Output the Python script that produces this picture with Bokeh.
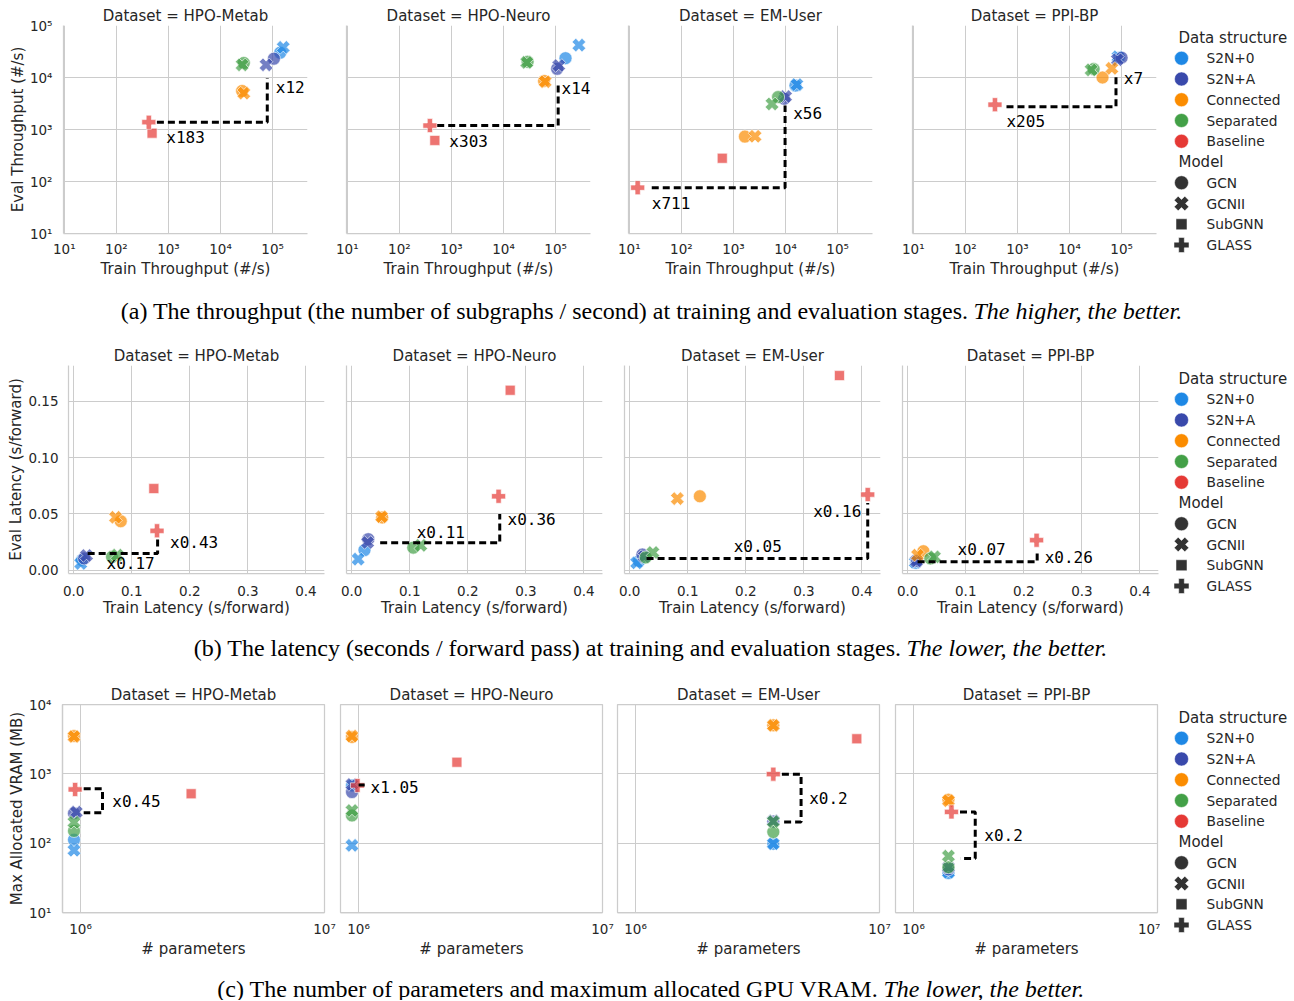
import math
from bokeh.plotting import figure
from bokeh.layouts import row, column
from bokeh.models import (Range1d, FixedTicker, CustomJSTickFormatter, NumeralTickFormatter,
                          Label, ColumnDataSource)
from bokeh.core.properties import value
from bokeh.embed import file_html
from bokeh.resources import INLINE

# ---------------- data ----------------
datasets = ["HPO-Metab", "HPO-Neuro", "EM-User", "PPI-BP"]
structures = ["S2N+0", "S2N+A", "Connected", "Separated", "Baseline"]
structure_colors = ["#1E88E5", "#3949AB", "#FB8C00", "#43A047", "#E53935"]
models = ["GCN", "GCNII", "SubGNN", "GLASS"]

point_structure = ["S2N+0", "S2N+0", "S2N+A", "S2N+A", "Connected", "Connected",
                   "Separated", "Separated", "Baseline", "Baseline"]
point_model = ["GCN", "GCNII", "GCN", "GCNII", "GCN", "GCNII", "GCN", "GCNII", "SubGNN", "GLASS"]

train_throughput = {
    "HPO-Metab": [1.4e5, 1.6e5, 1.06e5, 7.5e4, 2.6e4, 2.8e4, 2.8e4, 2.6e4, 485, 420],
    "HPO-Neuro": [1.55e5, 2.8e5, 1.07e5, 1.15e5, 6.0e4, 6.3e4, 2.9e4, 2.8e4, 480, 386],
    "EM-User": [1.55e4, 1.65e4, 9.4e3, 1.0e4, 1.66e3, 2.6e3, 7.2e3, 5.5e3, 610, 14.5],
    "PPI-BP": [9.0e4, 8.5e4, 1.0e5, 8.3e4, 4.3e4, 6.5e4, 2.9e4, 2.6e4, None, 370],
}
eval_throughput = {
    "HPO-Metab": [3.0e4, 3.8e4, 2.3e4, 1.75e4, 5.5e3, 5.0e3, 1.9e4, 1.75e4, 850, 1380],
    "HPO-Neuro": [2.35e4, 4.2e4, 1.47e4, 1.7e4, 8.6e3, 8.3e3, 2.0e4, 1.95e4, 617, 1190],
    "EM-User": [7.0e3, 7.3e3, 3.9e3, 4.3e3, 730, 740, 4.2e3, 3.1e3, 280, 76],
    "PPI-BP": [2.4e4, 2.5e4, 2.4e4, 2.2e4, 1.0e4, 1.5e4, 1.45e4, 1.4e4, None, 3.0e3],
}
train_latency = {
    "HPO-Metab": [0.014, 0.012, 0.018, 0.022, 0.081, 0.072, 0.066, 0.075, 0.138, 0.1435],
    "HPO-Neuro": [0.022, 0.011, 0.0285, 0.0274, 0.0525, 0.0515, 0.106, 0.119, 0.273, 0.253],
    "EM-User": [0.016, 0.012, 0.0218, 0.025, 0.1208, 0.082, 0.0275, 0.040, 0.3613, 0.41],
    "PPI-BP": [0.0143, 0.013, 0.016, 0.015, 0.027, 0.017, 0.039, 0.046, None, 0.222],
}
eval_latency = {
    "HPO-Metab": [0.009, 0.006, 0.0104, 0.013, 0.0435, 0.047, 0.0118, 0.0133, 0.0725, 0.035],
    "HPO-Neuro": [0.0178, 0.0098, 0.0275, 0.0246, 0.0468, 0.0475, 0.020, 0.022, 0.160, 0.0657],
    "EM-User": [0.008, 0.0065, 0.0139, 0.012, 0.0657, 0.0636, 0.0113, 0.0157, 0.173, 0.0672],
    "PPI-BP": [0.0065, 0.0070, 0.0083, 0.0080, 0.0168, 0.0133, 0.0104, 0.0118, None, 0.0266],
}
num_params = {
    "HPO-Metab": [9.4e5, 9.4e5, 9.4e5, 9.6e5, 9.4e5, 9.4e5, 9.4e5, 9.4e5, 2.84e6, 9.5e5],
    "HPO-Neuro": [9.4e5, 9.4e5, 9.4e5, 9.4e5, 9.4e5, 9.4e5, 9.4e5, 9.4e5, 2.53e6, 9.9e5],
    "EM-User": [3.67e6, 3.67e6, 3.67e6, 3.67e6, 3.67e6, 3.67e6, 3.67e6, 3.67e6, 8.07e6, 3.67e6],
    "PPI-BP": [1.39e6, 1.39e6, 1.39e6, 1.39e6, 1.39e6, 1.39e6, 1.39e6, 1.39e6, None, 1.43e6],
}
max_vram = {
    "HPO-Metab": [112, 79, 270, 280, 3500, 3450, 150, 200, 516, 595],
    "HPO-Neuro": [680, 93, 546, 703, 3400, 3500, 251, 296, 1470, 680],
    "EM-User": [98, 98, 205, 210, 5000, 5000, 145, 205, 3200, 990],
    "PPI-BP": [37, 38, 42, 45, 424, 410, 45, 65, None, 282],
}

# guide lines and ratio annotations
tp_guide_x = {"HPO-Metab": [600, 7.9e4, 7.9e4], "HPO-Neuro": [533, 1.12e5, 1.12e5],
              "EM-User": [27, 9.8e3, 9.8e3], "PPI-BP": [616, 7.8e4, 7.8e4]}
tp_guide_y = {"HPO-Metab": [1380, 1380, 9.8e3], "HPO-Neuro": [1190, 1190, 8.3e3],
              "EM-User": [76, 76, 2.9e3], "PPI-BP": [2.75e3, 2.75e3, 1.05e4]}
tp_ratio_text = {"HPO-Metab": ["x183", "x12"], "HPO-Neuro": ["x303", "x14"],
                 "EM-User": ["x711", "x56"], "PPI-BP": ["x205", "x7"]}
tp_ratio_x = {"HPO-Metab": [910, 1.15e5], "HPO-Neuro": [912, 1.30e5],
              "EM-User": [27, 1.4e4], "PPI-BP": [616, 1.1e5]}
tp_ratio_y = {"HPO-Metab": [700, 6.5e3], "HPO-Neuro": [590, 6.2e3],
              "EM-User": [38, 2.0e3], "PPI-BP": [1.4e3, 9.5e3]}
tp_ratio_align = {"HPO-Metab": ["left", "left"], "HPO-Neuro": ["left", "left"],
                  "EM-User": ["left", "left"], "PPI-BP": ["left", "left"]}

lat_guide_x = {"HPO-Metab": [0.024, 0.1445, 0.1445], "HPO-Neuro": [0.049, 0.255, 0.255],
               "EM-User": [0.029, 0.41, 0.41], "PPI-BP": [0.017, 0.223, 0.223]}
lat_guide_y = {"HPO-Metab": [0.0148, 0.0148, 0.028], "HPO-Neuro": [0.0243, 0.0243, 0.050],
               "EM-User": [0.0104, 0.0104, 0.0598], "PPI-BP": [0.0074, 0.0074, 0.0178]}
lat_ratio_text = {"HPO-Metab": ["x0.17", "x0.43"], "HPO-Neuro": ["x0.11", "x0.36"],
                  "EM-User": ["x0.05", "x0.16"], "PPI-BP": ["x0.07", "x0.26"]}
lat_ratio_x = {"HPO-Metab": [0.0566, 0.166], "HPO-Neuro": [0.112, 0.2685],
               "EM-User": [0.179, 0.399], "PPI-BP": [0.0859, 0.236]}
lat_ratio_y = {"HPO-Metab": [0.0055, 0.025], "HPO-Neuro": [0.0331, 0.0453],
               "EM-User": [0.0207, 0.0517], "PPI-BP": [0.0184, 0.0113]}
lat_ratio_align = {"HPO-Metab": ["left", "left"], "HPO-Neuro": ["left", "left"],
                   "EM-User": ["left", "right"], "PPI-BP": ["left", "left"]}

vram_guide_x = {"HPO-Metab": [1.03e6, 1.23e6, 1.23e6, 1.03e6], "HPO-Neuro": [1.0e6, 1.06e6],
                "EM-User": [3.98e6, 4.77e6, 4.77e6, 3.98e6], "PPI-BP": [1.55e6, 1.79e6, 1.79e6, 1.55e6]}
vram_guide_y = {"HPO-Metab": [610, 610, 275, 275], "HPO-Neuro": [690, 690],
                "EM-User": [990, 990, 202, 202], "PPI-BP": [282, 282, 60, 60]}
vram_ratio_text = {"HPO-Metab": ["x0.45"], "HPO-Neuro": ["x1.05"], "EM-User": ["x0.2"], "PPI-BP": ["x0.2"]}
vram_ratio_x = {"HPO-Metab": [1.35e6], "HPO-Neuro": [1.12e6], "EM-User": [5.15e6], "PPI-BP": [1.95e6]}
vram_ratio_y = {"HPO-Metab": [405], "HPO-Neuro": [645], "EM-User": [435], "PPI-BP": [129]}
vram_ratio_align = {"HPO-Metab": ["left"], "HPO-Neuro": ["left"], "EM-User": ["left"], "PPI-BP": ["left"]}

caption_main = [
    "(a) The throughput (the number of subgraphs / second) at training and evaluation stages.",
    "(b) The latency (seconds / forward pass) at training and evaluation stages.",
    "(c) The number of parameters and maximum allocated GPU VRAM.",
]
caption_emph = ["The higher, the better.", "The lower, the better.", "The lower, the better."]

# ---------------- styles ----------------
TEXT = "#262626"
GRID = "#cccccc"
FONT = "DejaVu Sans"
marker_kind = {"GCN": "circle", "GCNII": "plus", "SubGNN": "square", "GLASS": "plus"}
marker_angle = {"GCN": 0.0, "GCNII": math.pi / 4, "SubGNN": 0.0, "GLASS": 0.0}
marker_size = {"GCN": 13, "GCNII": 14, "SubGNN": 10, "GLASS": 14}
color_of = dict(zip(structures, structure_colors))

SUP_CODE = """
const s = ['\u2070','\u00b9','\u00b2','\u00b3','\u2074','\u2075','\u2076','\u2077','\u2078','\u2079'];
const e = Math.round(Math.log10(tick));
return '10' + String(e).split('').map(c => s[parseInt(c)]).join('');
"""


def make_panel(ds, xv, yv, gx, gy, rt, rx, ry, ra, cfg, idx):
    l, r = cfg["borders"][idx]
    show_y = idx == 0 or cfg["yaxis_all"]
    p = figure(frame_width=cfg["frame_w"], frame_height=208,
               x_range=Range1d(*cfg["xr"]), y_range=Range1d(*cfg["yr"]),
               x_axis_type=cfg["xtype"], y_axis_type=cfg["ytype"],
               y_axis_location="left" if show_y else None,
               min_border_left=l, min_border_right=r,
               min_border_top=cfg["top"], min_border_bottom=cfg["bottom"],
               frame_align=False,
               output_backend="svg", toolbar_location=None,
               background_fill_color="white", border_fill_color="white")
    p.outline_line_color = GRID if cfg["boxed"] else None
    p.outline_line_width = 1.25
    p.title.text = "Dataset = " + ds
    p.title.align = "center"
    p.title.text_font = FONT
    p.title.text_font_size = "15px"
    p.title.text_font_style = "normal"
    p.title.text_color = TEXT
    p.title.standoff = 2

    p.xgrid.ticker = FixedTicker(ticks=cfg["xticks"])
    p.ygrid.ticker = FixedTicker(ticks=cfg["yticks"])
    p.grid.grid_line_color = GRID
    p.grid.grid_line_width = 1

    axes = list(p.xaxis) + (list(p.yaxis) if show_y else [])
    for ax in axes:
        ax.axis_line_color = GRID
        ax.axis_line_width = 1.25
        ax.major_tick_line_color = None
        ax.minor_tick_line_color = None
        ax.major_tick_out = 0
        ax.major_tick_in = 0
        ax.major_label_text_font = FONT
        ax.major_label_text_font_size = "13.5px"
        ax.major_label_text_color = TEXT
        ax.axis_label_text_font = FONT
        ax.axis_label_text_font_size = "15px"
        ax.axis_label_text_font_style = "normal"
        ax.axis_label_text_color = TEXT
    p.xaxis.ticker = FixedTicker(ticks=cfg["xticks"])
    p.xaxis.formatter = cfg["xfmt"]()
    p.xaxis.axis_label = cfg["xlabel"]
    p.xaxis.major_label_standoff = cfg["x_standoff"]
    p.xaxis.axis_label_standoff = cfg["x_label_standoff"]
    if show_y:
        p.yaxis.ticker = FixedTicker(ticks=cfg["yticks"])
        if idx == 0:
            p.yaxis.formatter = cfg["yfmt"]()
            p.yaxis.axis_label = cfg["ylabel"]
            p.yaxis.major_label_standoff = cfg["y_standoff"]
            p.yaxis.axis_label_standoff = cfg["y_label_standoff"]
        else:
            p.yaxis.formatter = CustomJSTickFormatter(code="return '';")
            p.yaxis.major_label_standoff = 0
            p.yaxis.axis_label_standoff = 0

    xs, ys, cols, mks, angs, szs = [], [], [], [], [], []
    for s, m, x, y in zip(point_structure, point_model, xv, yv):
        if x is None or y is None:
            continue
        xs.append(x); ys.append(y); cols.append(color_of[s])
        mks.append(marker_kind[m]); angs.append(marker_angle[m]); szs.append(marker_size[m])
    src = ColumnDataSource(dict(x=xs, y=ys, color=cols, marker=mks, angle=angs, size=szs))
    p.scatter(x="x", y="y", source=src, marker="marker", angle="angle", size="size",
              fill_color="color", fill_alpha=0.7, line_color="white", line_width=0.75, line_alpha=0.8)

    p.line(gx, gy, line_color="black", line_width=3, line_dash="7 4")
    for t, x, y, a in zip(rt, rx, ry, ra):
        p.add_layout(Label(x=x, y=y, text=t, text_font="DejaVu Sans Mono", text_font_size="16px",
                           text_align=a, text_baseline="middle", text_color="black"))
    return p


def canvas_figure(width, height):
    p = figure(width=width, height=height, x_range=Range1d(0, width), y_range=Range1d(height, 0),
               min_border=0, x_axis_location=None, y_axis_location=None, frame_align=False,
               output_backend="svg", toolbar_location=None, outline_line_color=None)
    p.grid.visible = False
    return p


def make_legend(height, y0):
    p = canvas_figure(134, height)
    step = 20.75
    p.text(x=[18, 18], y=[y0, y0 + 6 * step], text=["Data structure", "Model"],
           text_font=value(FONT), text_font_size="15px", text_color=TEXT,
           text_align="left", text_baseline="middle")
    sy = [y0 + (i + 1) * step for i in range(len(structures))]
    p.scatter(x=[21] * len(structures), y=sy, marker="circle", size=14,
              fill_color=structure_colors, line_color="white", line_width=0.5)
    p.text(x=[46] * len(structures), y=sy, text=structures, text_font=value(FONT),
           text_font_size="13.75px", text_color=TEXT, text_align="left", text_baseline="middle")
    my = [y0 + (i + 7) * step for i in range(len(models))]
    p.scatter(x=[21] * len(models), y=my, marker=[marker_kind[m] for m in models],
              angle=[marker_angle[m] for m in models],
              size=[marker_size[m] + 1 for m in models],
              fill_color="#333333", line_color="white", line_width=0.5)
    p.text(x=[46] * len(models), y=my, text=models, text_font=value(FONT),
           text_font_size="13.75px", text_color=TEXT, text_align="left", text_baseline="middle")
    return p


def make_caption(height, y, main, emph, split):
    p = canvas_figure(1294, height)
    p.text(x=[split - 5], y=[y], text=[main], text_font=value("Liberation Serif"),
           text_font_size="24px", text_color="black", text_align="right", text_baseline="middle")
    p.text(x=[split], y=[y], text=[emph], text_font=value("Liberation Serif"),
           text_font_size="24px", text_font_style="italic", text_color="black",
           text_align="left", text_baseline="middle")
    return p


def log_fmt():
    return CustomJSTickFormatter(code=SUP_CODE)


cfg_a = dict(xr=(10 ** 0.985, 10 ** 5.67), yr=(10, 1e5), xtype="log", ytype="log",
             xticks=[10, 100, 1e3, 1e4, 1e5], yticks=[10, 100, 1e3, 1e4, 1e5],
             frame_w=244, borders=[(63, 12), (27, 12), (26, 12), (28, 4)], top=25, bottom=49,
             boxed=False, yaxis_all=True, xfmt=log_fmt, yfmt=log_fmt,
             xlabel="Train Throughput (#/s)", ylabel="Eval Throughput (#/s)",
             x_standoff=7, x_label_standoff=0, y_standoff=11, y_label_standoff=0)
cfg_b = dict(xr=(-0.009, 0.432), yr=(-0.003, 0.182), xtype="linear", ytype="linear",
             xticks=[0, 0.1, 0.2, 0.3, 0.4], yticks=[0, 0.05, 0.1, 0.15],
             frame_w=256, borders=[(68, 10), (12, 10), (12, 10), (12, 2)], top=29, bottom=47,
             boxed=False, yaxis_all=True,
             xfmt=lambda: NumeralTickFormatter(format="0.0"),
             yfmt=lambda: NumeralTickFormatter(format="0.00"),
             xlabel="Train Latency (s/forward)", ylabel="Eval Latency (s/forward)",
             x_standoff=12, x_label_standoff=0, y_standoff=10, y_label_standoff=0)
cfg_c = dict(xr=(10 ** 5.926, 1e7), yr=(10, 1e4), xtype="log", ytype="log",
             xticks=[1e6, 1e7], yticks=[10, 100, 1e3, 1e4],
             frame_w=262, borders=[(62, 12), (4, 12), (3, 12), (4, 3)], top=29, bottom=49,
             boxed=True, yaxis_all=False, xfmt=log_fmt, yfmt=log_fmt,
             xlabel="# parameters", ylabel="Max Allocated VRAM (MB)",
             x_standoff=8, x_label_standoff=0, y_standoff=11, y_label_standoff=0)

panels_a = [make_panel(ds, train_throughput[ds], eval_throughput[ds], tp_guide_x[ds], tp_guide_y[ds],
                       tp_ratio_text[ds], tp_ratio_x[ds], tp_ratio_y[ds], tp_ratio_align[ds], cfg_a, i)
            for i, ds in enumerate(datasets)]
panels_b = [make_panel(ds, train_latency[ds], eval_latency[ds], lat_guide_x[ds], lat_guide_y[ds],
                       lat_ratio_text[ds], lat_ratio_x[ds], lat_ratio_y[ds], lat_ratio_align[ds], cfg_b, i)
            for i, ds in enumerate(datasets)]
panels_c = [make_panel(ds, num_params[ds], max_vram[ds], vram_guide_x[ds], vram_guide_y[ds],
                       vram_ratio_text[ds], vram_ratio_x[ds], vram_ratio_y[ds], vram_ratio_align[ds], cfg_c, i)
            for i, ds in enumerate(datasets)]

# row heights: a 282, b 284, c 286 ; captions 54, 55, 39  -> total 1000
row_a = row(*panels_a, make_legend(282, 37), spacing=0)
cap_a = make_caption(54, 28, caption_main[0], caption_emph[0], 973)
row_b = row(*panels_b, make_legend(284, 42), spacing=0)
cap_b = make_caption(55, 27, caption_main[1], caption_emph[1], 906)
row_c = row(*panels_c, make_legend(286, 42), spacing=0)
cap_c = make_caption(39, 27, caption_main[2], caption_emph[2], 883)

layout = column(row_a, cap_a, row_b, cap_b, row_c, cap_c, spacing=0)
open("out.html", "w").write(file_html(layout, INLINE, "chart"))
